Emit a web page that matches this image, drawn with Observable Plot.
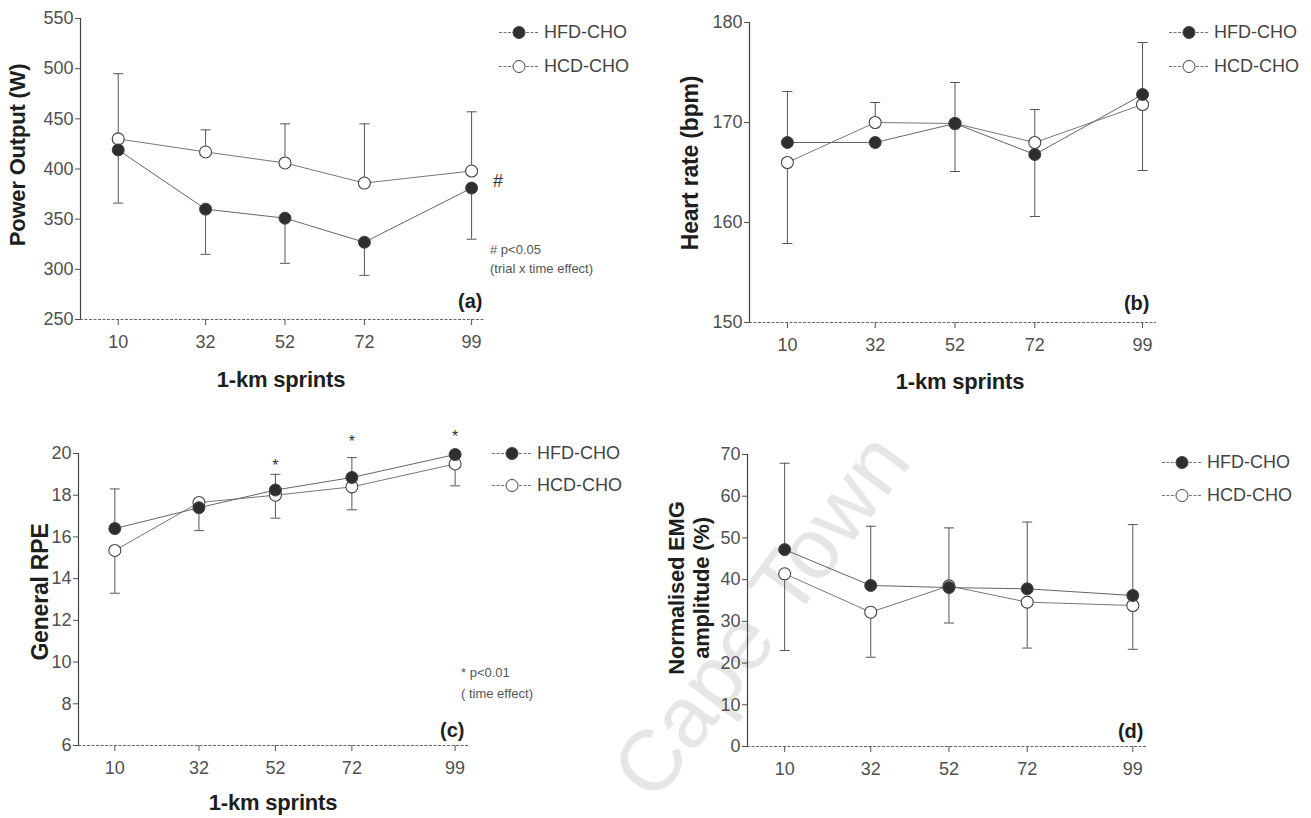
<!DOCTYPE html>
<html>
<head>
<meta charset="utf-8">
<script src="https://cdn.jsdelivr.net/npm/d3@7"></script>
<script src="https://cdn.jsdelivr.net/npm/@observablehq/plot@0.6"></script>
<style>
  body { margin: 0; background: #fff; }
  #root { position: relative; width: 1311px; height: 818px; overflow: hidden; font-family: "Liberation Sans", Arial, sans-serif; }
  .panel { position: absolute; z-index: 1; }
  .lbl { position: absolute; font-weight: bold; color: #1e1e1e; white-space: nowrap; z-index: 2; line-height: 1; letter-spacing: -0.2px; }
  .ylbl { transform: translate(-50%, -50%) rotate(-90deg); }
  .xlbl { transform: translate(-50%, -50%); }
  .note { position: absolute; color: #555; white-space: nowrap; z-index: 2; line-height: 1; transform: translateY(-50%); }
  .legend { position: absolute; z-index: 2; }
  .legend .row { position: absolute; left: 0; display: flex; align-items: center; white-space: nowrap; color: #444; font-size: 18px; transform: translateY(-50%); }
  .legend svg { display: block; margin-right: 4px; }
  .wm { position: absolute; z-index: 0; font-size: 86px; color: #e6e6e6; white-space: nowrap; transform: translate(-50%, -50%) rotate(-53deg); line-height: 1; }
</style>
</head>
<body>
<div id="root"></div>
<script>
// ---------- data ----------
const sprints = [10, 32, 52, 72, 99];
const seriesNames = ["HFD-CHO", "HCD-CHO"];

// (a) power output (W)
const powerHFD = [419, 360, 351, 327, 381];
const powerHFDBar = [366, 315, 306, 294, 330];
const powerHCD = [430, 417, 406, 386, 398];
const powerHCDBar = [495, 439, 445, 445, 457];
const powerTicks = [250, 300, 350, 400, 450, 500, 550];

// (b) heart rate (bpm)
const hrHFD = [168.0, 168.0, 169.9, 166.8, 172.8];
const hrHFDBar = [173.1, null, 174.0, 160.6, 178.0];
const hrHCD = [166.0, 170.0, 169.9, 168.0, 171.8];
const hrHCDBar = [157.9, 172.0, 165.1, 171.3, 165.2];
const hrTicks = [150, 160, 170, 180];

// (c) general RPE
const rpeHFD = [16.4, 17.4, 18.25, 18.85, 19.95];
const rpeHFDBar = [18.3, 16.3, 19.0, 19.8, null];
const rpeHCD = [15.35, 17.65, 18.0, 18.4, 19.5];
const rpeHCDBar = [13.3, 17.85, 16.9, 17.3, 18.45];
const rpeTicks = [6, 8, 10, 12, 14, 16, 18, 20];
const rpeSigSprints = [52, 72, 99];
const rpeSigLevel = [19.66, 20.78, 21.02];

// (d) normalised EMG amplitude (%)
const emgHFD = [47.2, 38.6, 38.1, 37.8, 36.2];
const emgHFDBar = [67.9, 52.8, 52.4, 53.8, 53.2];
const emgHCD = [41.4, 32.2, 38.5, 34.6, 33.8];
const emgHCDBar = [23.0, 21.4, 29.6, 23.6, 23.3];
const emgTicks = [0, 10, 20, 30, 40, 50, 60, 70];

const xDomain = [0.5, 102.5];

// ---------- helpers ----------
const capSymbol = {
  draw(ctx, size) {
    const w = Math.sqrt(size / Math.PI);
    ctx.moveTo(-w, 0);
    ctx.lineTo(w, 0);
  }
};

function rows(means, bars, name) {
  return sprints.map((s, i) => ({ sprint: s, mean: means[i], bar: bars[i], series: name }));
}

function panel(cfg) {
  const hfd = rows(cfg.hfd, cfg.hfdBar, seriesNames[0]);
  const hcd = rows(cfg.hcd, cfg.hcdBar, seriesNames[1]);
  const errs = [...hfd, ...hcd].filter(d => d.bar != null);
  const yMin = cfg.ticks[0];
  const marks = [
    Plot.ruleY([yMin], { stroke: "#666", strokeWidth: 1, strokeDasharray: "3,1.5" }),
    Plot.ruleX([xDomain[0]], { stroke: "#444", strokeWidth: 1.2 }),
    Plot.axisY({ ticks: cfg.ticks, tickSize: 5, tickPadding: 2, fontSize: 18, tickFormat: d => String(d), label: null }),
    Plot.axisX({ ticks: sprints, tickSize: 6, tickPadding: 10, fontSize: 18, tickFormat: d => String(d), label: null }),
    Plot.ruleX(errs, { x: "sprint", y1: "mean", y2: "bar", stroke: "#555", strokeWidth: 1 }),
    Plot.dot(errs, { x: "sprint", y: "bar", symbol: capSymbol, r: 5, stroke: "#555", strokeWidth: 1, fill: "none" }),
    Plot.line(hcd, { x: "sprint", y: "mean", stroke: "#777", strokeWidth: 1 }),
    Plot.line(hfd, { x: "sprint", y: "mean", stroke: "#666", strokeWidth: 1 }),
    Plot.dot(hcd, { x: "sprint", y: "mean", r: 6, fill: "white", stroke: "#444", strokeWidth: 1.1 }),
    Plot.dot(hfd, { x: "sprint", y: "mean", r: 6, fill: "#2e2e2e", stroke: "#444", strokeWidth: 1 }),
    Plot.text([cfg.letter], { frameAnchor: "bottom-right", textAnchor: "end", lineAnchor: "bottom", dx: cfg.letterDx, dy: cfg.letterDy, fontSize: 20, fontWeight: "bold", fill: "#1e1e1e" })
  ];
  if (cfg.extra) marks.push(...cfg.extra);
  const svg = Plot.plot({
    width: cfg.width, height: cfg.height,
    marginLeft: cfg.ml, marginRight: cfg.mr, marginTop: cfg.mt, marginBottom: cfg.mb,
    x: { domain: xDomain, axis: null },
    y: { domain: [cfg.ticks[0], cfg.ticks[cfg.ticks.length - 1]], axis: null },
    style: { background: "none", color: "#505050", fontFamily: "'Liberation Sans', Arial, sans-serif", overflow: "visible" },
    marks
  });
  svg.classList.add("panel");
  svg.style.left = cfg.left + "px";
  svg.style.top = cfg.top + "px";
  return svg;
}

const root = document.getElementById("root");

function addDiv(cls, text, css) {
  const d = document.createElement("div");
  d.className = cls;
  d.textContent = text;
  Object.assign(d.style, css);
  root.appendChild(d);
  return d;
}

function legend(left, top, gap) {
  const box = document.createElement("div");
  box.className = "legend";
  box.style.left = left + "px";
  box.style.top = top + "px";
  seriesNames.forEach((name, i) => {
    const row = document.createElement("div");
    row.className = "row";
    row.style.top = (i * gap) + "px";
    const filled = i === 0;
    row.innerHTML =
      `<svg width="42" height="16"><line x1="1" y1="8" x2="41" y2="8" stroke="#777" stroke-width="1" stroke-dasharray="3,1.5"/>` +
      `<circle cx="21" cy="8" r="6" fill="${filled ? "#2e2e2e" : "white"}" stroke="#444" stroke-width="1"/></svg>` +
      `<span>${name}</span>`;
    box.appendChild(row);
  });
  root.appendChild(box);
}

// watermark
addDiv("wm", "Cape Town", { left: "760px", top: "615px" });

// (a)
root.appendChild(panel({
  hfd: powerHFD, hfdBar: powerHFDBar, hcd: powerHCD, hcdBar: powerHCDBar, ticks: powerTicks,
  letter: "(a)", letterDx: -3, letterDy: -12,
  left: 0, top: 0, width: 650, height: 405, ml: 80, mr: 165, mt: 18, mb: 86
}));
// (b)
root.appendChild(panel({
  hfd: hrHFD, hfdBar: hrHFDBar, hcd: hrHCD, hcdBar: hrHCDBar, ticks: hrTicks,
  letter: "(b)", letterDx: -7, letterDy: -13,
  left: 655, top: 0, width: 656, height: 405, ml: 94, mr: 155, mt: 22, mb: 83
}));
// (c)
root.appendChild(panel({
  hfd: rpeHFD, hfdBar: rpeHFDBar, hcd: rpeHCD, hcdBar: rpeHCDBar, ticks: rpeTicks,
  letter: "(c)", letterDx: -4, letterDy: -9,
  left: 0, top: 410, width: 650, height: 408, ml: 78, mr: 182, mt: 43, mb: 73,
  extra: [Plot.text(rpeSigSprints.map((s, i) => ({ sprint: s, level: rpeSigLevel[i] })),
    { x: "sprint", y: "level", text: () => "*", fontSize: 16, dy: 5, fill: "#333" })]
}));
// (d)
root.appendChild(panel({
  hfd: emgHFD, hfdBar: emgHFDBar, hcd: emgHCD, hcdBar: emgHCDBar, ticks: emgTicks,
  letter: "(d)", letterDx: -3, letterDy: -9,
  left: 655, top: 410, width: 656, height: 408, ml: 92, mr: 165, mt: 44, mb: 72
}));

// axis titles
addDiv("lbl ylbl", "Power Output (W)", { left: "18px", top: "155px", fontSize: "22px" });
addDiv("lbl xlbl", "1-km sprints", { left: "281px", top: "380px", fontSize: "22px" });
addDiv("lbl ylbl", "Heart rate (bpm)", { left: "690px", top: "163px", fontSize: "23px" });
addDiv("lbl xlbl", "1-km sprints", { left: "960px", top: "382px", fontSize: "22px" });
addDiv("lbl ylbl", "General RPE", { left: "40px", top: "592px", fontSize: "23px" });
addDiv("lbl xlbl", "1-km sprints", { left: "273px", top: "803px", fontSize: "22px" });
addDiv("lbl ylbl", "Normalised EMG", { left: "677px", top: "588px", fontSize: "22px" });
addDiv("lbl ylbl", "amplitude (%)", { left: "702px", top: "588px", fontSize: "22px" });

// annotations
addDiv("note", "#", { left: "493px", top: "181px", fontSize: "18px", color: "#333" });
addDiv("note", "# p<0.05", { left: "490px", top: "249px", fontSize: "13px" });
addDiv("note", "(trial x time effect)", { left: "490px", top: "268px", fontSize: "13px" });
addDiv("note", "* p<0.01", { left: "461px", top: "672px", fontSize: "13px" });
addDiv("note", "( time effect)", { left: "461px", top: "693px", fontSize: "13px" });

// legends
legend(498, 32, 34);
legend(1168, 32, 34);
legend(491, 453, 32);
legend(1161, 462, 33);
</script>
</body>
</html>
